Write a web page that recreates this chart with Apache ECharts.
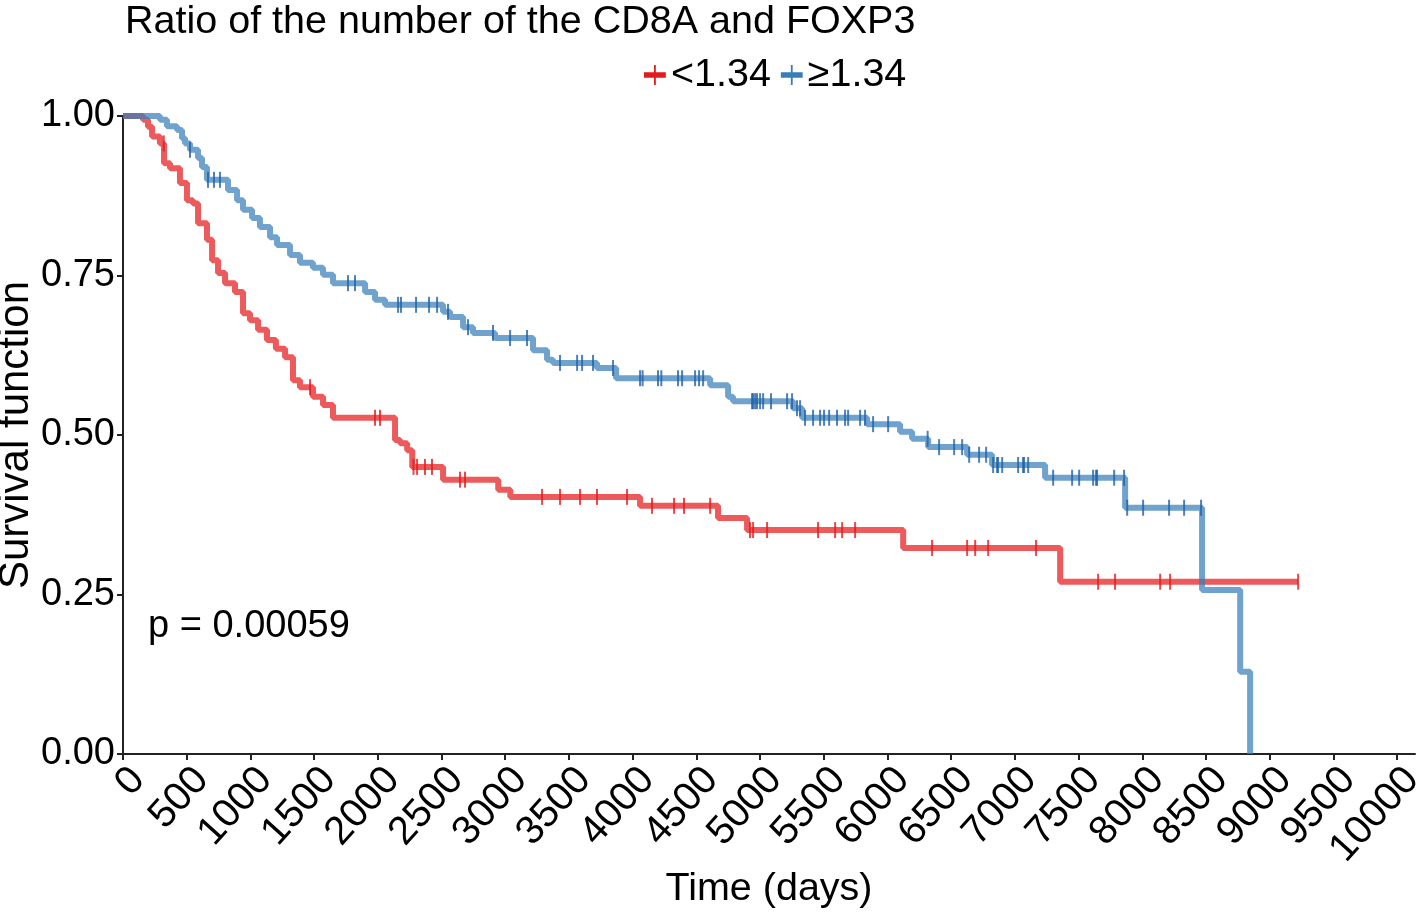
<!DOCTYPE html>
<html>
<head>
<meta charset="utf-8">
<script src="https://cdn.jsdelivr.net/npm/echarts@6/dist/echarts.min.js"></script>
<style>
  html, body { margin: 0; padding: 0; background: #fff; }
  #main { width: 1418px; height: 915px; }
</style>
</head>
<body>
<div id="main"></div>
<script>
// ---- data ----
var groupNames = ['<1.34', '≥1.34'];

// Kaplan-Meier steps: [day, survival after that day]
var lowSteps = [[0,1],[157,0.994],[196,0.983],[228,0.968],[290,0.957],[322,0.926],[369,0.918],[447,0.895],
  [502,0.868],[549,0.863],[589,0.832],[659,0.806],[699,0.774],[746,0.754],[801,0.738],[879,0.724],
  [942,0.691],[997,0.68],[1060,0.665],[1130,0.649],[1200,0.635],[1272,0.622],[1334,0.586],[1389,0.575],
  [1491,0.56],[1570,0.547],[1648,0.527],[2135,0.492],[2175,0.487],[2230,0.476],[2270,0.45],[2512,0.43],
  [2945,0.414],[3040,0.403],[4058,0.389],[4670,0.37],[4898,0.351],[6123,0.323],[7355,0.27],[9223,0.27]];

var highSteps = [[0,1],[290,0.994],[345,0.984],[424,0.978],[463,0.965],[487,0.957],[526,0.947],[589,0.934],
  [620,0.92],[659,0.9],[824,0.884],[895,0.868],[942,0.853],[1013,0.84],[1075,0.826],[1154,0.81],
  [1209,0.798],[1311,0.782],[1389,0.77],[1491,0.762],[1570,0.751],[1648,0.738],[1900,0.724],[1978,0.712],
  [2057,0.704],[2512,0.693],[2567,0.685],[2669,0.669],[2747,0.66],[2920,0.652],[3218,0.633],[3328,0.618],
  [3375,0.613],[3720,0.605],[3870,0.589],[4608,0.578],[4749,0.56],[4788,0.553],[5259,0.542],[5330,0.527],
  [5840,0.517],[6099,0.505],[6193,0.494],[6319,0.481],[6625,0.469],[6821,0.453],[7237,0.433],[7865,0.386],
  [8469,0.257],[8768,0.129],[8846,0]];

// censored observations (days)
var lowCensor = [320,1468,1978,2017,2280,2308,2370,2425,2645,2684,3289,3430,3587,3720,3956,4152,4325,4403,
  4608,4921,4945,5055,5455,5589,5644,5746,6350,6625,6688,6790,7166,7653,7786,8140,8218,9223];

var highCensor = [526,667,714,761,1766,1821,2159,2182,2300,2402,2465,2551,2708,2904,3038,3171,3430,3564,
  3603,3689,3846,4058,4078,4199,4225,4356,4388,4490,4521,4553,4937,4945,4961,4976,5000,5024,5086,5212,
  5251,5290,5314,5353,5416,5471,5502,5542,5604,5667,5691,5785,5824,5887,6005,6315,6405,6523,6586,6641,
  6719,6774,6829,6860,6868,6900,7025,7064,7072,7104,7300,7449,7504,7614,7637,7645,7779,7857,7881,8006,
  8210,8328,8461];

var xTicks = [0,500,1000,1500,2000,2500,3000,3500,4000,4500,5000,5500,6000,6500,7000,7500,8000,8500,9000,9500,10000];
var yTicks = [0, 0.25, 0.5, 0.75, 1];
var pText = 'p = 0.00059';

// survival value of a step curve at day t
function survAt(steps, t) {
  var s = steps[0][1];
  for (var i = 0; i < steps.length; i++) {
    if (steps[i][0] <= t) s = steps[i][1];
  }
  return s;
}
function censorPoints(steps, days) {
  return days.map(function (d) { return [d, survAt(steps, d)]; });
}

var FONT = 'Liberation Sans';
var legendIcon = 'path://M0,8L24,8L24,14L0,14Z M11,0L13,0L13,22L11,22Z';

var chart = echarts.init(document.getElementById('main'));
var option = {
  animation: false,
  backgroundColor: '#fff',
  textStyle: { fontFamily: FONT },
  title: {
    text: 'Ratio of the number of the CD8A and FOXP3',
    left: 120, top: -3,
    textStyle: { fontFamily: FONT, fontSize: 39.5, fontWeight: 'normal', color: '#000' }
  },
  legend: {
    data: [
      { name: groupNames[0], icon: legendIcon },
      { name: groupNames[1], icon: legendIcon }
    ],
    left: 639, top: 50,
    itemWidth: 22, itemHeight: 20, itemGap: 10,
    textStyle: { fontFamily: FONT, fontSize: 39.5, color: '#000' }
  },
  grid: { left: 123, right: 3, top: 116, bottom: 161, outerBoundsMode: 'none', containLabel: false },
  xAxis: {
    type: 'value', min: 0, max: 10140,
    name: 'Time (days)', nameLocation: 'middle', nameGap: 115, nameMoveOverlap: false,
    nameTextStyle: { fontFamily: FONT, fontSize: 39.5, color: '#000' },
    axisLine: { lineStyle: { color: '#222', width: 2 } },
    axisTick: { show: true, length: 6, lineStyle: { color: '#222', width: 2 }, customValues: xTicks },
    axisLabel: { rotate: 48, verticalAlign: 'top', fontSize: 40, color: '#000', fontFamily: FONT, margin: 6,
      customValues: xTicks, formatter: function (v) { return String(v); } },
    splitLine: { show: false }
  },
  yAxis: {
    type: 'value', min: 0, max: 1, interval: 0.25,
    name: 'Survival function', nameLocation: 'middle', nameGap: 86, nameMoveOverlap: false,
    nameTextStyle: { fontFamily: FONT, fontSize: 42, color: '#000' },
    axisLine: { show: true, lineStyle: { color: '#222', width: 2 } },
    axisTick: { show: true, length: 6, lineStyle: { color: '#222', width: 2 } },
    axisLabel: { fontSize: 38, color: '#000', fontFamily: FONT, margin: 8,
      formatter: function (v) { return v.toFixed(2); } },
    splitLine: { show: false }
  },
  graphic: [{
    type: 'text', left: 148, top: 608,
    style: { text: pText, font: '38px "Liberation Sans"', fill: '#000' }
  }],
  series: [
    {
      name: groupNames[0], type: 'line', step: 'end', symbol: 'none',
      data: lowSteps, color: '#E41A1C',
      lineStyle: { color: '#E41A1C', width: 6, opacity: 0.72 }, z: 2
    },
    {
      name: groupNames[1], type: 'line', step: 'end', symbol: 'none',
      data: highSteps, color: '#377EB8',
      lineStyle: { color: '#377EB8', width: 6, opacity: 0.72 }, z: 2
    },
    {
      name: 'censor-low', type: 'scatter', symbol: 'rect', symbolSize: [2, 16],
      data: censorPoints(lowSteps, lowCensor), itemStyle: { color: '#E41A1C' }, z: 3
    },
    {
      name: 'censor-high', type: 'scatter', symbol: 'rect', symbolSize: [2, 16],
      data: censorPoints(highSteps, highCensor), itemStyle: { color: '#1F62A8' }, z: 3
    }
  ]
};
chart.setOption(option);
</script>
</body>
</html>
